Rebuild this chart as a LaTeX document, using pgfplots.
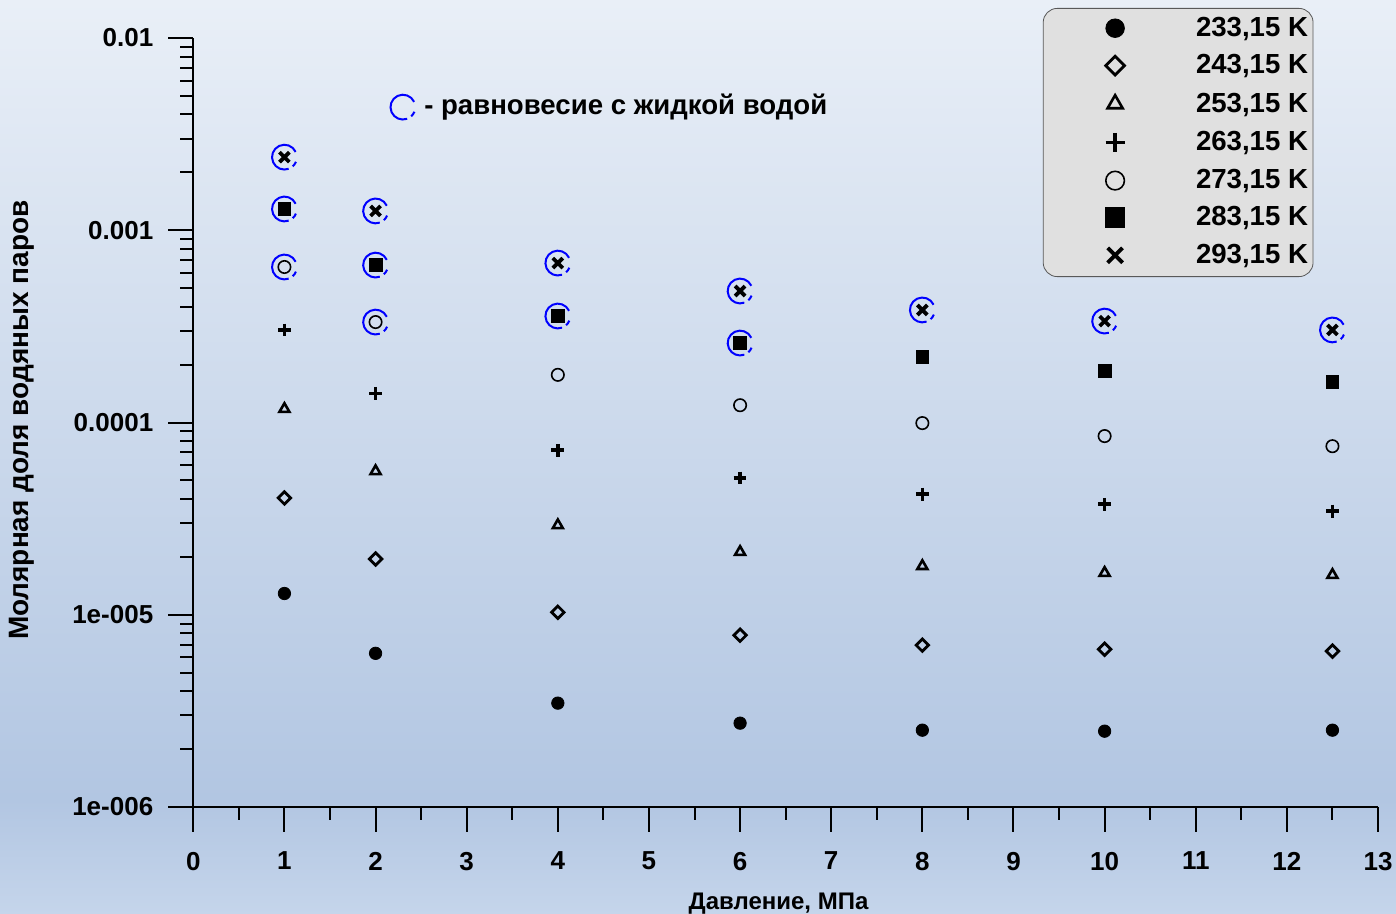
\documentclass[border=0pt]{standalone}
\usepackage{fontspec}
\setmainfont{Liberation Sans}
\usepackage{pgfplots}
\pgfplotsset{compat=1.18}

\definecolor{bgtop}{RGB}{233,239,247}
\definecolor{bgmid}{RGB}{178,198,226}
\definecolor{bgbot}{RGB}{197,213,235}
\definecolor{eqblue}{RGB}{0,0,255}

\pgfdeclareverticalshading{bgshade}{100bp}{color(0bp)=(bgbot); color(25bp)=(bgbot); color(31.25bp)=(bgmid); color(75bp)=(bgtop); color(100bp)=(bgtop)}

\pgfdeclareplotmark{eqc}{%
  \pgfpathmoveto{\pgfpointpolar{25}{\pgfplotmarksize}}%
  \pgfpatharc{25}{290}{\pgfplotmarksize}%
  \pgfusepathqstroke
  \pgfpathmoveto{\pgfpointpolar{312}{\pgfplotmarksize}}%
  \pgfpatharc{312}{338}{\pgfplotmarksize}%
  \pgfusepathqstroke}

\begin{document}
\begin{tikzpicture}
\shade[shading=bgshade] (0pt,0pt) rectangle (698pt,457pt);
\begin{axis}[
  at={(96.65pt,53.5pt)}, anchor=south west,
  scale only axis, width=592.35pt, height=384.5pt,
  xmin=0, xmax=13,
  ymode=log, ymin=1e-6, ymax=1e-2,
  axis x line*=bottom, axis y line*=left,
  axis line style={line width=1pt, -},
  tick align=outside,
  xtick={0,1,...,13}, minor x tick num=1,
  ytick={1e-6,1e-5,1e-4,1e-3,1e-2},
  yticklabels={1e-006,1e-005,0.0001,0.001,0.01},
  major tick length=12.5pt, minor tick length=6.5pt,
  every tick/.style={black, line width=1pt},
  tick label style={font=\fontsize{13}{15}\selectfont\bfseries},
  xticklabel style={yshift=-6.5pt},
  yticklabel style={xshift=-4pt},
  /pgf/number format/assume math mode=true,
  xlabel={Давление, МПа},
  xlabel style={font=\fontsize{12}{14}\selectfont\bfseries, at={(axis description cs:0.494,-0.125)}, anchor=center},
  ylabel={Молярная доля водяных паров},
  ylabel style={font=\fontsize{14}{16}\selectfont\bfseries, at={(axis description cs:-0.145,0.503)}, anchor=center},
  clip=false,
  legend cell align=right,
  legend style={at={(0.9455,1.039)}, anchor=north east, draw=black!65, fill=black!12,
    rounded corners=7pt, inner xsep=0.5pt, inner ysep=0.8pt,
    font=\fontsize{13.8}{15}\selectfont\bfseries,
    column sep=2pt, row sep=0pt,
    nodes={inner xsep=2pt, inner ysep=0pt}},
  legend image code/.code={%
    \path (-34.5pt,-8.9pt) (35.5pt,8.9pt);
    \draw[mark repeat=2,mark phase=2,#1, every mark/.append style={scale=1.5}] plot coordinates {(-1pt,0pt) (0pt,0pt) (1pt,0pt)};},
]
% 233.15 K
\addplot[only marks, mark=*, mark size=3.1pt, black] coordinates
  {(1,1.29e-5)(2,6.3e-6)(4,3.47e-6)(6,2.73e-6)(8,2.51e-6)(10,2.48e-6)(12.5,2.51e-6)};
\addlegendentry{233,15 K}
% 243.15 K
\addplot[only marks, mark=square, mark size=2.2pt, black, line width=1.4pt, mark options={rotate=45, fill=white, line width=1.4pt}] coordinates
  {(1,4.05e-5)(2,1.95e-5)(4,1.03e-5)(6,7.83e-6)(8,6.95e-6)(10,6.62e-6)(12.5,6.47e-6)};
\addlegendentry{243,15 K}
% 253.15 K
\addplot[only marks, mark=triangle, mark size=2.9pt, black, line width=1.3pt, mark options={fill=white, line width=1.3pt}] coordinates
  {(1,1.175e-4)(2,5.58e-5)(4,2.92e-5)(6,2.12e-5)(8,1.79e-5)(10,1.65e-5)(12.5,1.61e-5)};
\addlegendentry{253,15 K}
% 263.15 K
\addplot[only marks, mark=+, mark size=3.2pt, black, line width=1.7pt, mark options={line width=1.7pt}] coordinates
  {(1,3.03e-4)(2,1.42e-4)(4,7.18e-5)(6,5.14e-5)(8,4.24e-5)(10,3.76e-5)(12.5,3.46e-5)};
\addlegendentry{263,15 K}
% 273.15 K
\addplot[only marks, mark=o, mark size=3.1pt, black, line width=0.8pt, mark options={fill=white, line width=0.8pt}] coordinates
  {(1,6.44e-4)(2,3.33e-4)(4,1.77e-4)(6,1.23e-4)(8,9.93e-5)(10,8.50e-5)(12.5,7.53e-5)};
\addlegendentry{273,15 K}
% 283.15 K
\addplot[only marks, mark=square*, mark size=3.2pt, black] coordinates
  {(1,1.29e-3)(2,6.59e-4)(4,3.58e-4)(6,2.59e-4)(8,2.19e-4)(10,1.85e-4)(12.5,1.62e-4)};
\addlegendentry{283,15 K}
% 293.15 K
\addplot[only marks, mark=x, mark size=3.5pt, black, line width=1.9pt, mark options={line width=1.9pt}] coordinates
  {(1,2.40e-3)(2,1.26e-3)(4,6.75e-4)(6,4.83e-4)(8,3.85e-4)(10,3.37e-4)(12.5,3.03e-4)};
\addlegendentry{293,15 K}
% equilibrium with liquid water
\addplot[only marks, mark=eqc, mark size=6.2pt, eqblue, line width=1pt, forget plot] coordinates
  {(1,2.40e-3)(1,1.29e-3)(1,6.44e-4)(2,1.26e-3)(2,6.59e-4)(2,3.33e-4)
   (4,6.75e-4)(4,3.58e-4)(6,4.83e-4)(6,2.59e-4)(8,3.85e-4)(10,3.37e-4)(12.5,3.03e-4)};
\addplot[only marks, mark=eqc, mark size=6.2pt, eqblue, line width=1pt, forget plot] coordinates {(2.30,4.37e-3)};
\node[anchor=west, inner sep=0pt, font=\fontsize{13.8}{15}\selectfont\bfseries] at (axis cs:2.53,4.37e-3) {- равновесие с жидкой водой};
\end{axis}
\pgfresetboundingbox
\path[use as bounding box] (0pt,0pt) rectangle (698pt,457pt);
\end{tikzpicture}
\end{document}
